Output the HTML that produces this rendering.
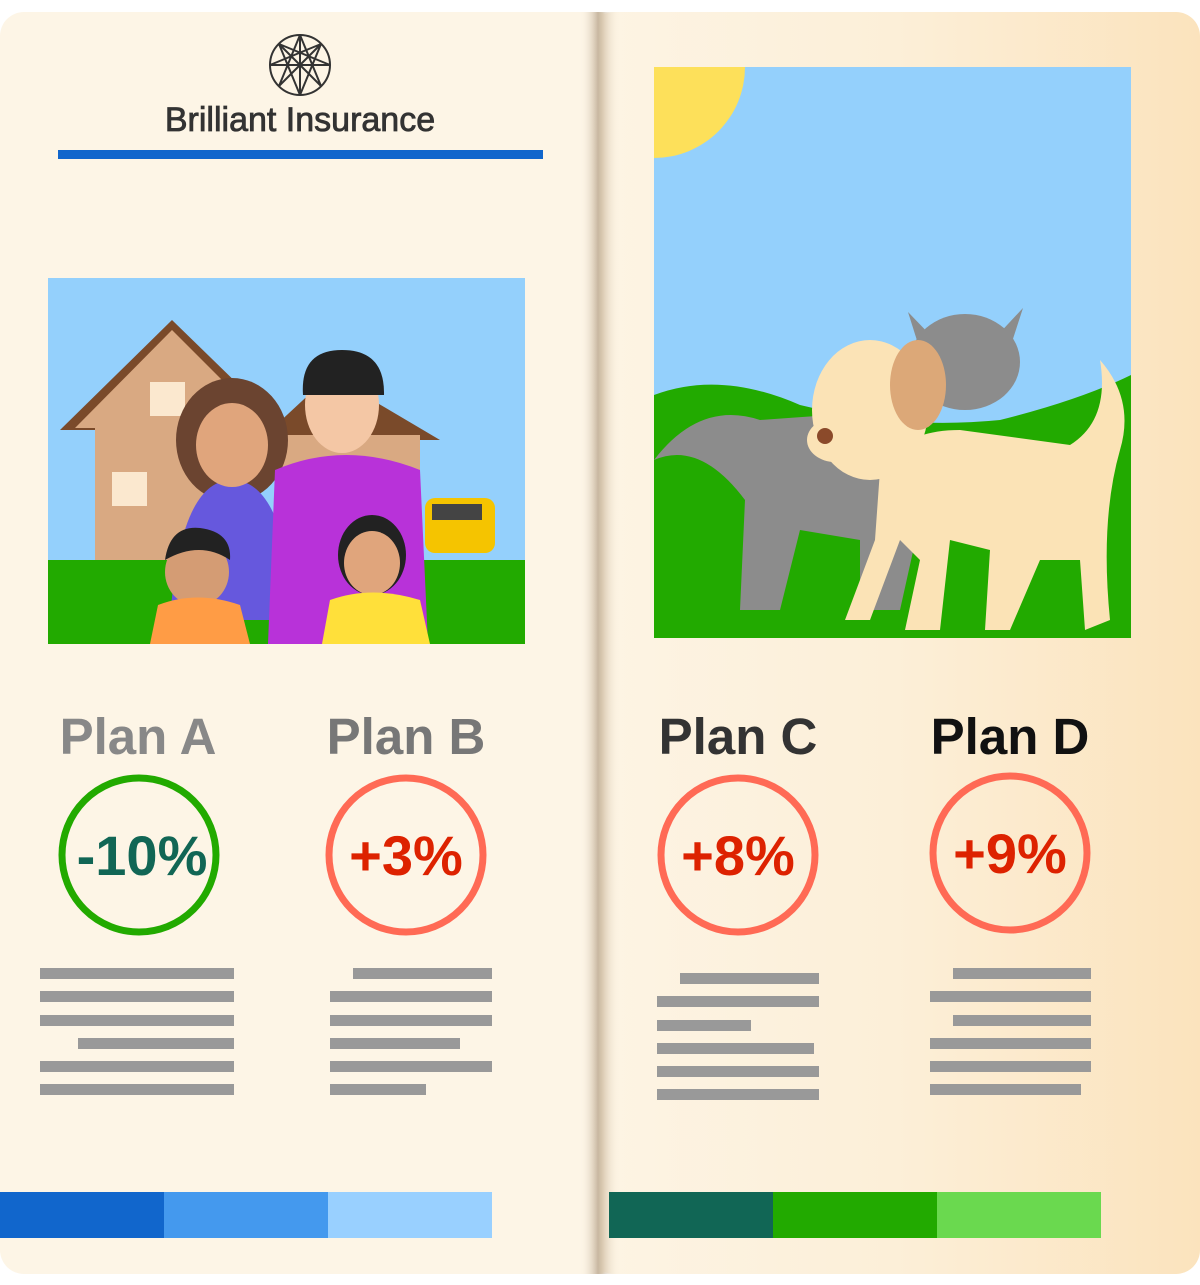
<!DOCTYPE html>
<html><head><meta charset="utf-8"><style>
html,body{margin:0;padding:0;background:#fff;}
svg{display:block;font-family:"Liberation Sans",Arial,sans-serif;}
</style></head><body>
<svg width="1200" height="1285" viewBox="0 0 1200 1285">
<defs>
<linearGradient id="rp" x1="0" x2="1" y1="0" y2="0">
<stop offset="0" stop-color="#fdf4e4"/><stop offset="0.5" stop-color="#fcefd8"/><stop offset="1" stop-color="#fbe3bd"/></linearGradient>
<linearGradient id="sp" x1="0" x2="1"><stop offset="0" stop-color="#fdf5e6" stop-opacity="0"/><stop offset="0.45" stop-color="#bba890" stop-opacity="0.8"/><stop offset="0.55" stop-color="#c8b498" stop-opacity="0.7"/><stop offset="1" stop-color="#fdf5e6" stop-opacity="0"/></linearGradient>
<clipPath id="c1"><rect x="48" y="278" width="477" height="366"/></clipPath>
<clipPath id="c2"><rect x="654" y="67" width="477" height="571"/></clipPath>
</defs>
<g>
<rect x="0" y="12" width="620" height="1262" rx="24" fill="#fdf5e6"/>
</g>
<g>
<rect x="590" y="12" width="610" height="1262" rx="24" fill="url(#rp)"/>
</g>
<rect x="580" y="12" width="40" height="1262" fill="url(#sp)"/>

<g stroke="#333" stroke-width="2" fill="none">
<circle cx="300" cy="65" r="30"/>
<path d="M300 35 L300 95 M270 65 L330 65 M279 44 L321 86 M321 44 L279 86 M300 35 L279 86 M300 35 L321 86 M270 65 L321 44 M330 65 L279 44 M300 95 L279 44 M300 95 L321 44"/>
</g>
<text x="300" y="131" text-anchor="middle" font-size="34" fill="#333" stroke="#333" stroke-width="0.8">Brilliant Insurance</text>
<rect x="58" y="150" width="485" height="9" fill="#1166cc"/>

<g clip-path="url(#c1)">
<rect x="48" y="278" width="477" height="366" fill="#94d0fc"/>
<rect x="48" y="560" width="477" height="84" fill="#22aa00"/>
<polygon points="60,430 172,320 285,430" fill="#7a4a2a"/>
<rect x="95" y="420" width="150" height="140" fill="#d9a982"/>
<polygon points="75,428 172,330 270,428" fill="#d9a982"/>
<rect x="150" y="382" width="35" height="34" fill="#fbe8cf"/>
<rect x="112" y="472" width="35" height="34" fill="#fbe8cf"/>
<polygon points="260,440 330,375 440,440" fill="#7a4a2a"/>
<rect x="280" y="435" width="140" height="125" fill="#d9a982"/>
<rect x="425" y="498" width="70" height="55" rx="10" fill="#f5c400"/>
<rect x="432" y="504" width="50" height="16" fill="#444"/>
<ellipse cx="232" cy="440" rx="56" ry="62" fill="#6b4430"/>
<path d="M170 620 Q180 480 232 480 Q285 480 295 620 Z" fill="#6658dd"/>
<ellipse cx="232" cy="445" rx="36" ry="42" fill="#e0a57c"/>
<path d="M268 644 L275 470 Q345 440 420 470 L428 644 Z" fill="#b832d9"/>
<ellipse cx="342" cy="405" rx="37" ry="48" fill="#f4c7a5"/>
<path d="M303 395 Q300 350 342 350 Q385 350 384 395 Z" fill="#222"/>
<ellipse cx="197" cy="572" rx="32" ry="34" fill="#d49c74"/>
<path d="M165 560 Q170 525 200 528 Q232 532 230 560 Q200 540 165 560Z" fill="#222"/>
<path d="M150 644 L158 605 Q197 590 240 605 L250 644Z" fill="#ff9c45"/>
<ellipse cx="372" cy="555" rx="34" ry="40" fill="#222"/>
<ellipse cx="372" cy="563" rx="28" ry="32" fill="#e0a57c"/>
<path d="M322 644 L330 600 Q372 585 420 600 L430 644Z" fill="#ffe03a"/>
</g>

<g clip-path="url(#c2)">
<rect x="654" y="67" width="477" height="571" fill="#94d0fc"/>
<circle cx="654" cy="67" r="91" fill="#fde05a"/>
<path d="M654 395 Q720 370 800 405 Q900 430 1000 420 Q1080 400 1131 375 L1131 638 L654 638Z" fill="#22aa00"/>
<path d="M654 460 Q700 400 760 420 L900 410 L920 520 L900 610 L860 610 L860 540 L800 530 L780 610 L740 610 L745 500 Q700 440 654 460Z" fill="#8c8c8c"/>
<ellipse cx="965" cy="362" rx="55" ry="48" fill="#8c8c8c"/>
<polygon points="908,312 935,340 920,350" fill="#8c8c8c"/>
<polygon points="1023,308 995,338 1010,348" fill="#8c8c8c"/>
<path d="M880 470 Q900 430 960 430 L1070 445 Q1110 420 1100 360 Q1135 400 1120 450 Q1100 520 1110 620 L1085 630 L1080 560 L1040 560 L1010 630 L985 630 L990 550 L950 540 L940 630 L905 630 L920 560 L900 540 L870 620 L845 620 L875 540Z" fill="#fbe3b6"/>
<ellipse cx="870" cy="410" rx="58" ry="70" fill="#fbe3b6"/>
<ellipse cx="835" cy="440" rx="28" ry="22" fill="#fbe3b6"/>
<ellipse cx="918" cy="385" rx="28" ry="45" fill="#dca878"/>
<circle cx="825" cy="436" r="8" fill="#8b4a2a"/>
</g>

<g font-weight="bold" font-size="51" text-anchor="middle">
<text x="138" y="754" fill="#888">Plan A</text>
<text x="406" y="754" fill="#777">Plan B</text>
<text x="738" y="754" fill="#333">Plan C</text>
<text x="1010" y="754" fill="#111">Plan D</text>
</g>
<g stroke-width="7" fill="none">
<circle cx="139" cy="855" r="77" stroke="#22aa00"/>
<circle cx="406" cy="855" r="77" stroke="#ff6a55"/>
<circle cx="738" cy="855" r="77" stroke="#ff6a55"/>
<circle cx="1010" cy="853" r="77" stroke="#ff6a55"/>
</g>
<g font-weight="bold" font-size="56" text-anchor="middle">
<text x="142" y="875" fill="#116655">-10%</text>
<text x="406" y="875" fill="#dd2200">+3%</text>
<text x="738" y="875" fill="#dd2200">+8%</text>
<text x="1010" y="873" fill="#dd2200">+9%</text>
</g>
<g fill="#999">
<rect x="40" y="968" width="194" height="11"/><rect x="40" y="991" width="194" height="11"/><rect x="40" y="1015" width="194" height="11"/><rect x="78" y="1038" width="156" height="11"/><rect x="40" y="1061" width="194" height="11"/><rect x="40" y="1084" width="194" height="11"/>
<rect x="353" y="968" width="139" height="11"/><rect x="330" y="991" width="162" height="11"/><rect x="330" y="1015" width="162" height="11"/><rect x="330" y="1038" width="130" height="11"/><rect x="330" y="1061" width="162" height="11"/><rect x="330" y="1084" width="96" height="11"/>
<rect x="680" y="973" width="139" height="11"/><rect x="657" y="996" width="162" height="11"/><rect x="657" y="1020" width="94" height="11"/><rect x="657" y="1043" width="157" height="11"/><rect x="657" y="1066" width="162" height="11"/><rect x="657" y="1089" width="162" height="11"/>
<rect x="953" y="968" width="138" height="11"/><rect x="930" y="991" width="161" height="11"/><rect x="953" y="1015" width="138" height="11"/><rect x="930" y="1038" width="161" height="11"/><rect x="930" y="1061" width="161" height="11"/><rect x="930" y="1084" width="151" height="11"/>
</g>
<g>
<rect x="0" y="1192" width="164" height="46" fill="#1166cc"/><rect x="164" y="1192" width="164" height="46" fill="#4499ee"/><rect x="328" y="1192" width="164" height="46" fill="#99d0ff"/>
</g>
<g>
<rect x="609" y="1192" width="164" height="46" fill="#116655"/><rect x="773" y="1192" width="164" height="46" fill="#22aa00"/><rect x="937" y="1192" width="164" height="46" fill="#6ad94f"/>
</g>
</svg>
</body></html>
